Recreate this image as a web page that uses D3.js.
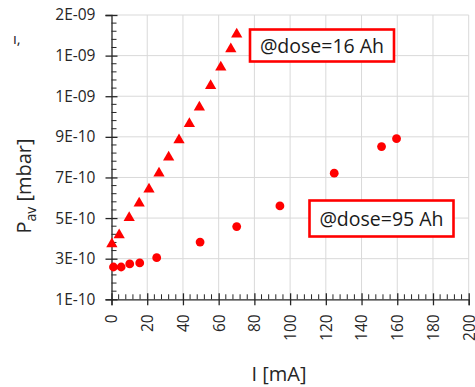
<!DOCTYPE html>
<html>
<head>
<meta charset="utf-8">
<script src="https://cdn.jsdelivr.net/npm/d3@7"></script>
<style>
  html, body { margin: 0; padding: 0; background: #fff; }
  svg { display: block; font-family: "Open Sans", sans-serif; }
</style>
</head>
<body>
<div id="chart"></div>
<script>
// dose = 16 Ah (triangles)
const i16 = [0.2, 4.3, 9.9, 15.5, 21, 26.6, 32, 37.8, 43.6, 49.2, 55.5, 61.2, 66.8, 70.1];
const p16 = [3.72e-10, 4.17e-10, 5.02e-10, 5.73e-10, 6.42e-10, 7.21e-10, 8.0e-10, 8.85e-10,
             9.64e-10, 1.046e-9, 1.152e-9, 1.243e-9, 1.333e-9, 1.405e-9];
// dose = 95 Ah (circles)
const i95 = [1.1, 5.4, 10.2, 15.8, 25.3, 49.6, 70.1, 94.3, 124.7, 151.2, 159.6];
const p95 = [2.59e-10, 2.59e-10, 2.74e-10, 2.79e-10, 3.05e-10, 3.82e-10, 4.58e-10, 5.6e-10,
             7.21e-10, 8.52e-10, 8.91e-10];

const xTicks = [0, 20, 40, 60, 80, 100, 120, 140, 160, 180, 200];
const yTicks = [1e-10, 3e-10, 5e-10, 7e-10, 9e-10, 1.1e-9, 1.3e-9, 1.5e-9];
const yTickLabels = ["1E-10", "3E-10", "5E-10", "7E-10", "9E-10", "1E-09", "1E-09", "2E-09"];

const width = 475, height = 387;
const svg = d3.select("#chart").append("svg")
  .attr("width", width)
  .attr("height", height);

const x = d3.scaleLinear().domain([0, 200]).range([111.5, 468.7]);
const y = d3.scaleLinear().domain([1e-10, 1.5e-9]).range([299.3, 15]);

const axisColor = "#262626";
const gridColor = "#d9d9d9";

// grid
svg.append("g").selectAll("line").data(xTicks.slice(1)).join("line")
  .attr("x1", d => x(d)).attr("x2", d => x(d))
  .attr("y1", y.range()[0]).attr("y2", y.range()[1])
  .attr("stroke", gridColor).attr("stroke-width", 1);
svg.append("g").selectAll("line").data(yTicks.slice(1)).join("line")
  .attr("x1", x.range()[0]).attr("x2", x.range()[1])
  .attr("y1", d => y(d)).attr("y2", d => y(d))
  .attr("stroke", gridColor).attr("stroke-width", 1);

// minor ticks (inside the plot)
const xMinor = d3.range(0, 201, 4).filter(v => v % 20 !== 0);
const yMinor = d3.range(0, 36).map(k => 1e-10 + k * 0.4e-10).filter((v, k) => k % 5 !== 0);

const xAxisG = svg.append("g").attr("transform", `translate(0,${y.range()[0]})`);
xAxisG.call(d3.axisBottom(x).tickValues(xTicks).tickSize(6).tickFormat(d3.format("d")))
  .call(g => g.select(".domain").attr("stroke", axisColor).attr("stroke-width", 1.3))
  .call(g => g.selectAll(".tick line").attr("stroke", axisColor).attr("y1", -6).attr("y2", 6).attr("stroke-width", 1.3))
  .call(g => g.selectAll(".tick text")
    .attr("fill", "#262626")
    .attr("font-size", 15.5)
    .attr("font-family", "Open Sans")
    .attr("transform", "rotate(-90)")
    .attr("text-anchor", "end")
    .attr("dy", "0.35em")
    .attr("x", -15)
    .attr("y", 0));
xAxisG.append("g").selectAll("line").data(xMinor).join("line")
  .attr("x1", d => x(d)).attr("x2", d => x(d))
  .attr("y1", -5).attr("y2", 0)
  .attr("stroke", axisColor).attr("stroke-width", 1);

const yAxisG = svg.append("g").attr("transform", `translate(${x.range()[0]},0)`);
yAxisG.call(d3.axisLeft(y).tickValues(yTicks).tickSize(6).tickFormat((d, i) => yTickLabels[i]))
  .call(g => g.select(".domain").attr("stroke", axisColor).attr("stroke-width", 1.3))
  .call(g => g.selectAll(".tick line").attr("stroke", axisColor).attr("x1", 6).attr("x2", -6).attr("stroke-width", 1.3))
  .call(g => g.selectAll(".tick text")
    .attr("fill", "#262626")
    .attr("font-size", 15.5)
    .attr("font-family", "Open Sans")
    .attr("x", -16));
yAxisG.append("g").selectAll("line").data(yMinor).join("line")
  .attr("x1", 0).attr("x2", 5)
  .attr("y1", d => y(d)).attr("y2", d => y(d))
  .attr("stroke", axisColor).attr("stroke-width", 1);

// data markers
const red = "#ff0000";
svg.append("g").selectAll("path").data(i16).join("path")
  .attr("transform", (d, k) => `translate(${x(d)},${y(p16[k])})`)
  .attr("d", d3.symbol().type(d3.symbolTriangle).size(55))
  .attr("fill", red);
svg.append("g").selectAll("circle").data(i95).join("circle")
  .attr("cx", d => x(d))
  .attr("cy", (d, k) => y(p95[k]))
  .attr("r", 4.4)
  .attr("fill", red);

// annotation boxes
function labelBox(x0, y0, w, h, txt) {
  const g = svg.append("g");
  g.append("rect")
    .attr("x", x0).attr("y", y0).attr("width", w).attr("height", h)
    .attr("fill", "#fff").attr("stroke", red).attr("stroke-width", 2.6);
  g.append("text")
    .attr("x", x0 + w / 2).attr("y", y0 + h / 2)
    .attr("dy", "0.36em")
    .attr("text-anchor", "middle")
    .attr("font-size", 19.5)
    .attr("fill", "#1a1a1a")
    .text(txt);
}
labelBox(250, 29.5, 144, 32, "@dose=16 Ah");
labelBox(309.5, 200.5, 144, 36, "@dose=95 Ah");

// axis titles
svg.append("text")
  .attr("x", 279).attr("y", 381)
  .attr("text-anchor", "middle")
  .attr("font-size", 20)
  .attr("fill", "#262626")
  .text("I [mA]");

const yt = svg.append("text")
  .attr("transform", "translate(31,186) rotate(-90)")
  .attr("text-anchor", "middle")
  .attr("font-size", 20)
  .attr("fill", "#262626");
yt.append("tspan").text("P");
yt.append("tspan").attr("font-size", 14).attr("dy", 5).text("av");
yt.append("tspan").attr("dy", -5).text(" [mbar]");

// clipped remnant at top-left
svg.append("text")
  .attr("x", 13).attr("y", 44)
  .attr("font-size", 15)
  .attr("fill", "#262626")
  .text("ı,");
</script>
</body>
</html>
